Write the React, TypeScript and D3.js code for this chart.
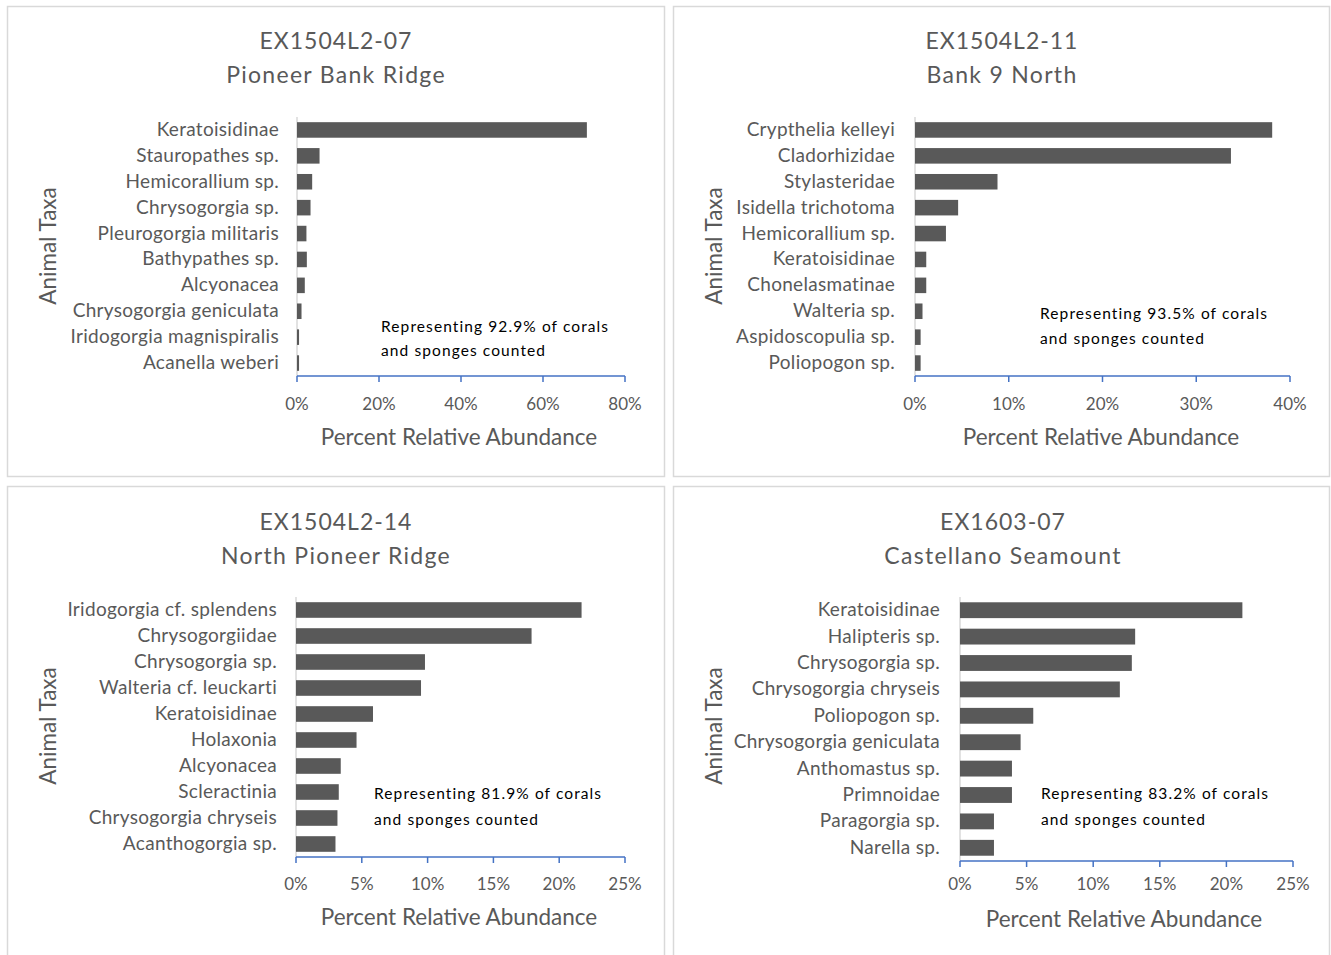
import React from "react";
import * as d3 from "d3";

// ---------- DATA ----------
const titles1 = ["EX1504L2-07", "Pioneer Bank Ridge"];
const taxa1 = [
  "Keratoisidinae",
  "Stauropathes sp.",
  "Hemicorallium sp.",
  "Chrysogorgia sp.",
  "Pleurogorgia militaris",
  "Bathypathes sp.",
  "Alcyonacea",
  "Chrysogorgia geniculata",
  "Iridogorgia magnispiralis",
  "Acanella weberi",
];
const values1 = [70.7, 5.5, 3.7, 3.3, 2.3, 2.4, 1.9, 1.1, 0.5, 0.5];
const ticks1 = [0, 20, 40, 60, 80];
const note1 = ["Representing 92.9% of corals", "and sponges counted"];

const titles2 = ["EX1504L2-11", "Bank 9 North"];
const taxa2 = [
  "Crypthelia kelleyi",
  "Cladorhizidae",
  "Stylasteridae",
  "Isidella trichotoma",
  "Hemicorallium sp.",
  "Keratoisidinae",
  "Chonelasmatinae",
  "Walteria sp.",
  "Aspidoscopulia sp.",
  "Poliopogon sp.",
];
const values2 = [38.1, 33.7, 8.8, 4.6, 3.3, 1.2, 1.2, 0.8, 0.6, 0.6];
const ticks2 = [0, 10, 20, 30, 40];
const note2 = ["Representing 93.5% of corals", "and sponges counted"];

const titles3 = ["EX1504L2-14", "North Pioneer Ridge"];
const taxa3 = [
  "Iridogorgia cf. splendens",
  "Chrysogorgiidae",
  "Chrysogorgia sp.",
  "Walteria cf. leuckarti",
  "Keratoisidinae",
  "Holaxonia",
  "Alcyonacea",
  "Scleractinia",
  "Chrysogorgia chryseis",
  "Acanthogorgia sp.",
];
const values3 = [21.7, 17.9, 9.8, 9.5, 5.85, 4.6, 3.4, 3.25, 3.15, 3.0];
const ticks3 = [0, 5, 10, 15, 20, 25];
const note3 = ["Representing 81.9% of corals", "and sponges counted"];

const titles4 = ["EX1603-07", "Castellano Seamount"];
const taxa4 = [
  "Keratoisidinae",
  "Halipteris sp.",
  "Chrysogorgia sp.",
  "Chrysogorgia chryseis",
  "Poliopogon sp.",
  "Chrysogorgia geniculata",
  "Anthomastus sp.",
  "Primnoidae",
  "Paragorgia sp.",
  "Narella sp.",
];
const values4 = [21.2, 13.15, 12.9, 12.0, 5.5, 4.55, 3.9, 3.9, 2.55, 2.55];
const ticks4 = [0, 5, 10, 15, 20, 25];
const note4 = ["Representing 83.2% of corals", "and sponges counted"];

const yAxisTitle = "Animal Taxa";
const xAxisTitle = "Percent Relative Abundance";

// ---------- LAYOUT ----------
type Layout = {
  fx: number; fy: number; fw: number; fh: number;
  x0: number; x1: number; y0: number; y1: number;
  labelGap: number; tickY: number;
  axTitleX: number; axTitleY: number;
  yTitleX: number; yTitleY: number;
  titleX: number; titleY1: number; titleY2: number;
  noteX: number; noteY1: number; noteY2: number;
};

const layouts: Layout[] = [
  { fx: 7.5, fy: 6.5, fw: 657, fh: 470, x0: 297, x1: 625, y0: 117, y1: 376, labelGap: 18, tickY: 403,
    axTitleX: 459, axTitleY: 436, yTitleX: 47, yTitleY: 246, titleX: 336, titleY1: 40, titleY2: 74,
    noteX: 381, noteY1: 326, noteY2: 350 },
  { fx: 673.5, fy: 6.5, fw: 656, fh: 470, x0: 915, x1: 1290, y0: 117, y1: 376, labelGap: 20, tickY: 403,
    axTitleX: 1101, axTitleY: 436, yTitleX: 713, yTitleY: 246, titleX: 1002, titleY1: 40, titleY2: 74,
    noteX: 1040, noteY1: 313, noteY2: 338 },
  { fx: 7.5, fy: 486.5, fw: 657, fh: 470, x0: 296, x1: 625, y0: 597, y1: 857, labelGap: 19, tickY: 883,
    axTitleX: 459, axTitleY: 916, yTitleX: 47, yTitleY: 726, titleX: 336, titleY1: 521, titleY2: 555,
    noteX: 374, noteY1: 793, noteY2: 819 },
  { fx: 673.5, fy: 486.5, fw: 656, fh: 470, x0: 960, x1: 1293, y0: 597, y1: 861, labelGap: 20, tickY: 883,
    axTitleX: 1124, axTitleY: 918, yTitleX: 713, yTitleY: 726, titleX: 1003, titleY1: 521, titleY2: 555,
    noteX: 1041, noteY1: 793, noteY2: 819 },
];

const FONT = "Lato, 'Open Sans', sans-serif";
const GRAY_TEXT = "#595959";
const BAR = "#595959";
const AXIS_BLUE = "#4472C4";
const FRAME = "#d9d9d9";

type PanelProps = {
  titles: string[];
  taxa: string[];
  values: number[];
  ticks: number[];
  note: string[];
  L: Layout;
};

function Panel({ titles, taxa, values, ticks, note, L }: PanelProps) {
  const x = d3.scaleLinear().domain([0, ticks[ticks.length - 1]]).range([L.x0, L.x1]);
  const y = d3.scaleBand<string>().domain(taxa).range([L.y0, L.y1]).paddingInner(0.4).paddingOuter(0.2);
  return (
    <g>
      <rect x={L.fx} y={L.fy} width={L.fw} height={L.fh} fill="#fff" stroke={FRAME} strokeWidth={1.5} />
      <text x={L.titleX} y={L.titleY1} textAnchor="middle" dominantBaseline="central" fontFamily={FONT}
        fontSize={23} fill={GRAY_TEXT} letterSpacing={1}>{titles[0]}</text>
      <text x={L.titleX} y={L.titleY2} textAnchor="middle" dominantBaseline="central" fontFamily={FONT}
        fontSize={23} fill={GRAY_TEXT} letterSpacing={1.3}>{titles[1]}</text>
      {/* vertical category axis */}
      <line x1={L.x0} x2={L.x0} y1={L.y0} y2={L.y1} stroke={FRAME} strokeWidth={1.5} />
      {taxa.map((t, i) => (
        <g key={t}>
          <rect x={x(0)} y={y(t)!} width={x(values[i]) - x(0)} height={y.bandwidth()} fill={BAR} />
          <text x={L.x0 - L.labelGap} y={y(t)! + y.bandwidth() / 2 - 1.5} textAnchor="end" dominantBaseline="central"
            fontFamily={FONT} fontSize={19} letterSpacing={0.3} fill={GRAY_TEXT}>{t}</text>
        </g>
      ))}
      {/* value axis */}
      <line x1={L.x0} x2={L.x1} y1={L.y1} y2={L.y1} stroke={AXIS_BLUE} strokeWidth={1.5} />
      {ticks.map((tk) => (
        <g key={tk}>
          <line x1={x(tk)} x2={x(tk)} y1={L.y1} y2={L.y1 + 6} stroke={AXIS_BLUE} strokeWidth={1.5} />
          <text x={x(tk)} y={L.tickY} textAnchor="middle" dominantBaseline="central" fontFamily={FONT}
            fontSize={17} fill={GRAY_TEXT}>{`${tk}%`}</text>
        </g>
      ))}
      <text x={L.axTitleX} y={L.axTitleY} textAnchor="middle" dominantBaseline="central" fontFamily={FONT}
        fontSize={22.5} fill={GRAY_TEXT}>{xAxisTitle}</text>
      <text transform={`translate(${L.yTitleX},${L.yTitleY}) rotate(-90)`} textAnchor="middle"
        dominantBaseline="central" fontFamily={FONT} fontSize={22.5} fill={GRAY_TEXT}>{yAxisTitle}</text>
      <text x={L.noteX} y={L.noteY1} dominantBaseline="central" fontFamily={FONT} fontSize={15.5}
        letterSpacing={1.1} fill="#000">{note[0]}</text>
      <text x={L.noteX} y={L.noteY2} dominantBaseline="central" fontFamily={FONT} fontSize={15.5}
        letterSpacing={1.1} fill="#000">{note[1]}</text>
    </g>
  );
}

export default function App() {
  return (
    <svg width={1331} height={955} style={{ position: "absolute", left: 0, top: 0, background: "#fff" }}>
      <rect x={0} y={0} width={1331} height={955} fill="#fff" />
      <Panel titles={titles1} taxa={taxa1} values={values1} ticks={ticks1} note={note1} L={layouts[0]} />
      <Panel titles={titles2} taxa={taxa2} values={values2} ticks={ticks2} note={note2} L={layouts[1]} />
      <Panel titles={titles3} taxa={taxa3} values={values3} ticks={ticks3} note={note3} L={layouts[2]} />
      <Panel titles={titles4} taxa={taxa4} values={values4} ticks={ticks4} note={note4} L={layouts[3]} />
    </svg>
  );
}
